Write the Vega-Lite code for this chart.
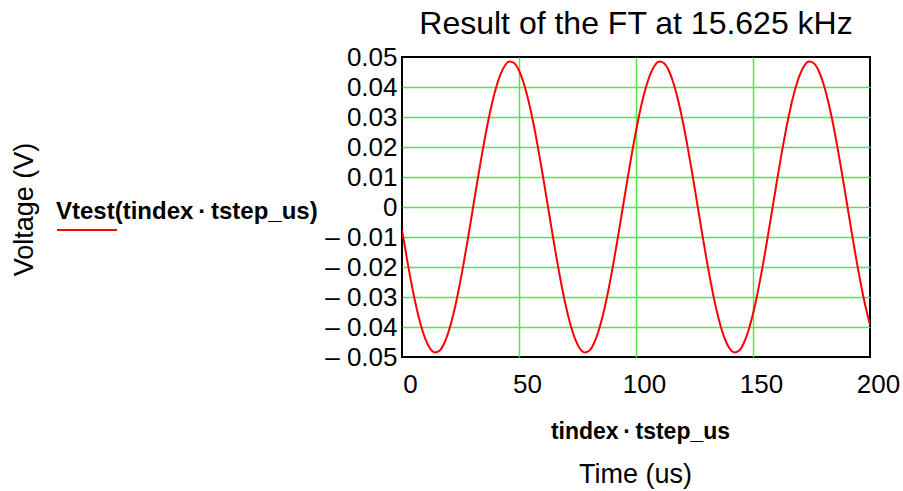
{
  "$schema": "https://vega.github.io/schema/vega-lite/v6.json",
  "width": 468,
  "height": 300,
  "autosize": {"type": "none"},
  "padding": {"left": 402, "top": 57, "right": 33, "bottom": 134},
  "background": "white",
  "config": {
    "font": "Liberation Sans",
    "view": {"stroke": "black", "strokeWidth": 2},
    "axis": {"labelColor": "black", "titleColor": "black", "labelFont": "Liberation Sans", "titleFont": "Liberation Sans", "gridColor": "#4ee84e", "gridOpacity": 1, "gridWidth": 1.5}
  },
  "title": {
    "text": "Result of the FT at 15.625 kHz",
    "fontSize": 32,
    "fontWeight": "normal",
    "font": "Liberation Sans",
    "color": "black",
    "anchor": "middle",
    "baseline": "alphabetic",
    "offset": 8,
    "dy": 30
  },
  "data": {
    "values": [
      {"t": 0, "v": -0.00759}, {"t": 2, "v": -0.01679}, {"t": 4, "v": -0.02534}, {"t": 6, "v": -0.03292},
      {"t": 8, "v": -0.03924}, {"t": 10, "v": -0.04404}, {"t": 12, "v": -0.04716}, {"t": 14, "v": -0.04846},
      {"t": 16, "v": -0.0479}, {"t": 18, "v": -0.0455}, {"t": 20, "v": -0.04135}, {"t": 22, "v": -0.03561},
      {"t": 24, "v": -0.02851}, {"t": 26, "v": -0.02031}, {"t": 28, "v": -0.01132}, {"t": 30, "v": -0.00191},
      {"t": 32, "v": 0.00759}, {"t": 34, "v": 0.01679}, {"t": 36, "v": 0.02534}, {"t": 38, "v": 0.03292},
      {"t": 40, "v": 0.03924}, {"t": 42, "v": 0.04404}, {"t": 44, "v": 0.04716}, {"t": 46, "v": 0.04846},
      {"t": 48, "v": 0.0479}, {"t": 50, "v": 0.0455}, {"t": 52, "v": 0.04135}, {"t": 54, "v": 0.03561},
      {"t": 56, "v": 0.02851}, {"t": 58, "v": 0.02031}, {"t": 60, "v": 0.01132}, {"t": 62, "v": 0.00191},
      {"t": 64, "v": -0.00759}, {"t": 66, "v": -0.01679}, {"t": 68, "v": -0.02534}, {"t": 70, "v": -0.03292},
      {"t": 72, "v": -0.03924}, {"t": 74, "v": -0.04404}, {"t": 76, "v": -0.04716}, {"t": 78, "v": -0.04846},
      {"t": 80, "v": -0.0479}, {"t": 82, "v": -0.0455}, {"t": 84, "v": -0.04135}, {"t": 86, "v": -0.03561},
      {"t": 88, "v": -0.02851}, {"t": 90, "v": -0.02031}, {"t": 92, "v": -0.01132}, {"t": 94, "v": -0.00191},
      {"t": 96, "v": 0.00759}, {"t": 98, "v": 0.01679}, {"t": 100, "v": 0.02534}, {"t": 102, "v": 0.03292},
      {"t": 104, "v": 0.03924}, {"t": 106, "v": 0.04404}, {"t": 108, "v": 0.04716}, {"t": 110, "v": 0.04846},
      {"t": 112, "v": 0.0479}, {"t": 114, "v": 0.0455}, {"t": 116, "v": 0.04135}, {"t": 118, "v": 0.03561},
      {"t": 120, "v": 0.02851}, {"t": 122, "v": 0.02031}, {"t": 124, "v": 0.01132}, {"t": 126, "v": 0.00191},
      {"t": 128, "v": -0.00759}, {"t": 130, "v": -0.01679}, {"t": 132, "v": -0.02534}, {"t": 134, "v": -0.03292},
      {"t": 136, "v": -0.03924}, {"t": 138, "v": -0.04404}, {"t": 140, "v": -0.04716}, {"t": 142, "v": -0.04846},
      {"t": 144, "v": -0.0479}, {"t": 146, "v": -0.0455}, {"t": 148, "v": -0.04135}, {"t": 150, "v": -0.03561},
      {"t": 152, "v": -0.02851}, {"t": 154, "v": -0.02031}, {"t": 156, "v": -0.01132}, {"t": 158, "v": -0.00191},
      {"t": 160, "v": 0.00759}, {"t": 162, "v": 0.01679}, {"t": 164, "v": 0.02534}, {"t": 166, "v": 0.03292},
      {"t": 168, "v": 0.03924}, {"t": 170, "v": 0.04404}, {"t": 172, "v": 0.04716}, {"t": 174, "v": 0.04846},
      {"t": 176, "v": 0.0479}, {"t": 178, "v": 0.0455}, {"t": 180, "v": 0.04135}, {"t": 182, "v": 0.03561},
      {"t": 184, "v": 0.02851}, {"t": 186, "v": 0.02031}, {"t": 188, "v": 0.01132}, {"t": 190, "v": 0.00191},
      {"t": 192, "v": -0.00759}, {"t": 194, "v": -0.01679}, {"t": 196, "v": -0.02534}, {"t": 198, "v": -0.03292},
      {"t": 200, "v": -0.03924}
    ]
  },
  "layer": [
    {
      "mark": {"type": "line", "strokeOpacity": 0},
      "encoding": {
        "x": {
          "field": "t", "type": "quantitative",
          "scale": {"domain": [0, 200], "nice": false, "zero": false},
          "axis": {
            "orient": "bottom",
            "values": [50, 100, 150],
            "title": "Time (us)", "titleFontSize": 27, "titleFontWeight": "normal",
            "titleBaseline": "alphabetic", "titleY": 125, "titleX": 233,
            "labels": false, "ticks": false, "domain": false, "grid": true
          }
        },
        "y": {
          "field": "v", "type": "quantitative",
          "scale": {"domain": [-0.05, 0.05], "nice": false, "zero": false},
          "axis": {
            "orient": "left",
            "values": [-0.04, -0.03, -0.02, -0.01, 0, 0.01, 0.02, 0.03, 0.04],
            "title": null, "labels": false, "ticks": false, "domain": false, "grid": true
          }
        }
      }
    },
    {
      "mark": {"type": "line", "strokeWidth": 2, "interpolate": "monotone", "clip": true},
      "encoding": {
        "x": {
          "field": "t", "type": "quantitative",
          "scale": {"domain": [0, 200], "nice": false, "zero": false},
          "axis": {
            "orient": "bottom",
            "values": [0, 50, 100, 150, 200],
            "title": "tindex\u2009·\u2009tstep_us",
            "titleFontSize": 23, "titleFontWeight": "bold",
            "titleBaseline": "alphabetic", "titleY": 81, "titleX": 238,
            "labelFontSize": 26, "labelPadding": 14, "labelOffset": 8,
            "labelFlush": false, "labelBound": false, "labelOverlap": false,
            "ticks": false, "domain": false, "grid": false
          }
        },
        "y": {
          "field": "v", "type": "quantitative",
          "scale": {"domain": [-0.05, 0.05], "nice": false, "zero": false},
          "axis": {
            "orient": "left",
            "values": [-0.05, -0.04, -0.03, -0.02, -0.01, 0, 0.01, 0.02, 0.03, 0.04, 0.05],
            "labelExpr": "abs(datum.value) < 0.0001 ? '0' : (datum.value < 0 ? '– ' + format(-datum.value, '.2f') : format(datum.value, '.2f'))",
            "labelFontSize": 26, "labelPadding": 5, "labelOverlap": false, "labelBound": false, "labelFlush": false,
            "ticks": false, "domain": false, "grid": false,
            "title": "Voltage (V)", "titleFontSize": 27, "titleFontWeight": "normal",
            "titleAngle": -90, "titleX": -378, "titleY": 152, "titleBaseline": "middle", "titleAlign": "center"
          }
        },
        "color": {
          "datum": "Vtest",
          "type": "nominal",
          "scale": {"range": ["#ff0000"]},
          "legend": {
            "orient": "none", "legendX": -346, "legendY": 143,
            "title": "Vtest(tindex\u2009·\u2009tstep_us)", "titleLimit": 500,
            "titleFontSize": 24, "titleFontWeight": "bold", "titleColor": "black", "titleFont": "Liberation Sans",
            "titlePadding": -25, "padding": 0,
            "symbolType": "stroke", "symbolSize": 3600, "symbolStrokeWidth": 2, "symbolOffset": 0,
            "labelExpr": "''", "labelFontSize": 1
          }
        }
      }
    }
  ],
  "resolve": {"axis": {"x": "independent", "y": "independent"}}
}
